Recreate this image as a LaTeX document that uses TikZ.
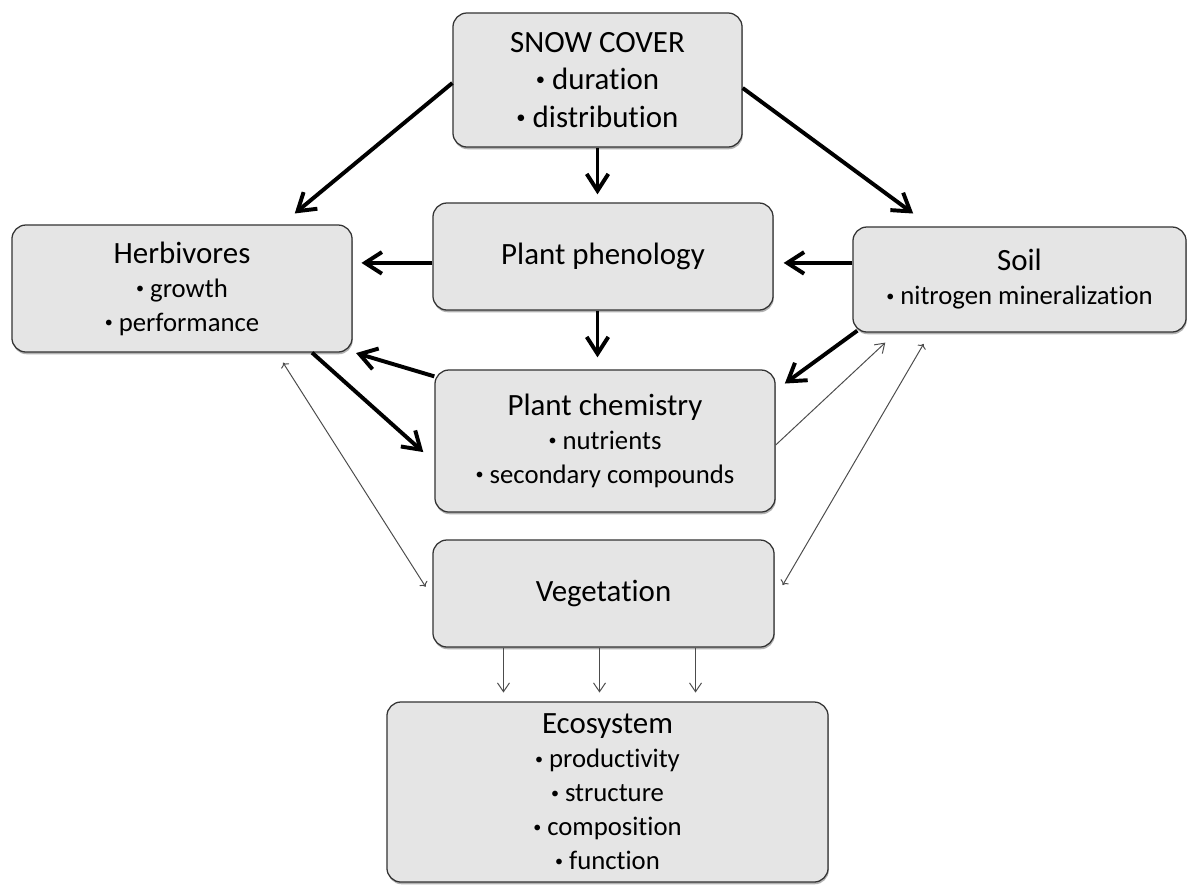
\documentclass[tikz,border=0pt]{standalone}
\usepackage{fontspec}
\setmainfont{Carlito}[Ligatures=NoCommon]
\usetikzlibrary{arrows.meta,shadows}

\newcommand{\bul}{\raisebox{0.14em}{\scalebox{0.6}{\textbullet}}\ }

\begin{document}
\begin{tikzpicture}[x=0.025cm, y=-0.025cm, shorten >=1pt]
  \tikzstyle{box}=[rectangle, rounded corners=0.35cm, draw=black!80, line width=0.9pt,
    fill=black!10, align=center, inner sep=2pt,
    font=\fontsize{19}{24.2}\selectfont,
    drop shadow={shadow xshift=0.5pt, shadow yshift=-1.6pt, fill=black!60}]
  \tikzstyle{title}=[font=\fontsize{22}{26.6}\selectfont]
  \tikzstyle{main}=[line width=2.8pt, -{Straight Barb[length=4.2mm, width=5.4mm]}]
  \tikzstyle{link}=[line width=0.7pt, draw=black!70,
    -{Straight Barb[length=2.2mm, width=3mm]}]

  \useasboundingbox (0,0) rectangle (1187,884);

  \path
    (597.5, 80) node[box, title, minimum width=7.225cm, minimum height=3.35cm] (snow)
      {SNOW COVER\\ \bul duration\\ \bul distribution}
    (182, 288.5) node[box, minimum width=8.5cm, minimum height=3.175cm] (herb)
      {{\fontsize{22}{26.6}\selectfont Herbivores}\\ \bul growth\\ \bul performance}
    (603, 256.5) node[box, title, minimum width=8.5cm, minimum height=2.675cm] (phen)
      {Plant phenology}
    (1019.5, 279.5) node[box, minimum width=8.325cm, minimum height=2.625cm] (soil)
      {{\fontsize{22}{26.6}\selectfont Soil}\\ \bul nitrogen mineralization}
    (605, 441) node[box, minimum width=8.5cm, minimum height=3.55cm] (chem)
      {{\fontsize{22}{26.6}\selectfont Plant chemistry}\\ \bul nutrients\\ \bul secondary compounds}
    (603.5, 593.5) node[box, title, minimum width=8.525cm, minimum height=2.675cm] (veg)
      {Vegetation}
    (607.5, 792) node[box, minimum width=11.025cm, minimum height=4.5cm] (eco)
      {{\fontsize{22}{26.6}\selectfont Ecosystem}\\ \bul productivity\\ \bul structure\\
       \bul composition\\ \bul function};

  % snow cover drives everything
  \path[draw, main] ([yshift=-0.075cm]snow.west) -- ([xshift=-1.475cm, yshift=0.25cm]herb.north east);
  \path[draw, main] ([yshift=-0.2cm]snow.east) -- ([xshift=1.55cm, yshift=0.3cm]soil.north west);
  \path[draw, main, shorten >=0.2cm] (snow.south) -- (snow.south |- phen.north);

  \path[draw, main, shorten >=0.22cm] ([yshift=-0.16cm]phen.west) -- ([yshift=-0.16cm]phen.west -| herb.east);
  \path[draw, main, shorten >=0.25cm] ([yshift=-0.16cm]phen.east -| soil.west) -- ([yshift=-0.16cm]phen.east);
  \path[draw, main, shorten >=0.3cm] (snow.south |- phen.south) -- (snow.south |- chem.north);

  % plant chemistry and herbivores
  \path[draw, main] ([yshift=-0.175cm]chem.north west) -- ([xshift=0.05cm]herb.south east);
  \path[draw, main] ([xshift=3.25cm]herb.south) -- ([xshift=-0.25cm, yshift=-0.3cm]chem.west);
  \path[draw, main] ([xshift=0.125cm, yshift=0.05cm]soil.south west) -- ([xshift=0.2cm, yshift=-0.375cm]chem.north east);

  % feedbacks
  \path[draw, link, <->] ([xshift=2.525cm, yshift=-0.25cm]herb.south) -- ([xshift=-0.15cm, yshift=0.14cm]veg.west);
  \path[draw, link] ([yshift=-0.1cm]chem.east) -- ([xshift=0.85cm, yshift=-0.225cm]soil.south west);
  \path[draw, link, <->] ([xshift=0.2cm, yshift=0.21cm]veg.east) -- ([xshift=1.8cm, yshift=-0.25cm]soil.south west);

  \foreach \dx in {-2.5,-0.1,2.3}
    \path[draw, link, shorten >=0.22cm]
      ([xshift=\dx cm]veg.south) -- ([xshift=\dx cm]veg.south |- eco.north);
\end{tikzpicture}
\end{document}
